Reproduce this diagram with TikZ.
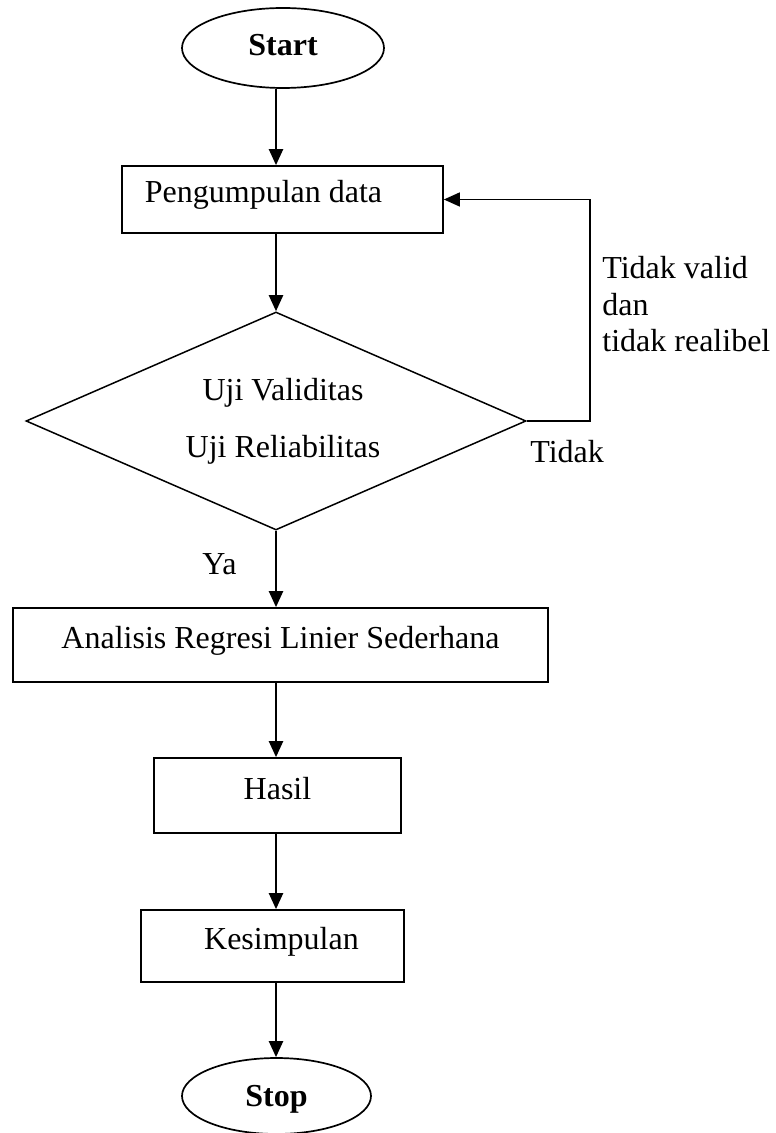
\documentclass[tikz,border=0pt]{standalone}
\usepackage{fontspec}
\setmainfont{Liberation Serif}
\usetikzlibrary{shapes.geometric,arrows.meta}
\begin{document}
\begin{tikzpicture}[x=0.5pt,y=-0.5pt,
  every node/.style={font=\fontsize{16}{18.25}\selectfont},
  box/.style={draw,line width=0.85pt,rectangle,inner sep=0pt,text height=0.7em,text depth=0.35em},
  term/.style={draw,line width=0.85pt,ellipse,inner sep=0pt,text depth=0pt,font=\fontsize{16}{18.25}\selectfont\bfseries},
  decision/.style={draw,line width=0.75pt,diamond,aspect=2.3,inner sep=0pt,align=center,minimum width=250pt,minimum height=109pt,font=\fontsize{16}{28.5}\selectfont},
  lbl/.style={inner sep=0pt},
  flow/.style={line width=1.1pt,-{Triangle[length=8pt,width=7pt]}},
  back/.style={line width=0.75pt,-{Triangle[length=8pt,width=7pt]}}]
\useasboundingbox (0,0) rectangle (775,1133);
\coordinate (ax) at (276,0);
\node[term,text height=0.75em,minimum width=101pt,minimum height=40pt] (start) at (283,48) {Start};
\node[box,minimum width=160.5pt,minimum height=33.5pt] (peng) at (282.5,199.5) {Pengumpulan data\hspace*{19pt}};
\node[decision] (dia) at (276,421) {\hspace*{7pt}Uji Validitas\\\hspace*{7pt}Uji Reliabilitas};
\node[box,minimum width=267.5pt,minimum height=37pt] (anal) at (280.5,645) {Analisis Regresi Linier Sederhana};
\node[box,minimum width=123.5pt,minimum height=37.5pt] (hasil) at (277.5,795.5) {Hasil};
\node[box,minimum width=131.5pt,minimum height=36pt] (kes) at (272.5,946) {\hspace*{9pt}Kesimpulan};
\node[term,text height=1em,minimum width=94.5pt,minimum height=38pt] (stop) at (276.5,1096) {Stop};
\draw[flow] (start.south -| ax) -- (peng.north -| ax);
\draw[flow] (peng.south -| ax) -- (dia.north -| ax);
\draw[flow] (dia.south -| ax) -- (anal.north -| ax);
\draw[flow] (anal.south -| ax) -- (hasil.north -| ax);
\draw[flow] (hasil.south -| ax) -- (kes.north -| ax);
\draw[flow] (kes.south -| ax) -- (stop.north -| ax);
\draw[back] (dia.east) -- ++(63,0) |- (peng.east);
\node[lbl,anchor=north west,align=left] (tv) at (602,256) {Tidak valid\\dan\\tidak realibel};
\node[lbl,anchor=base west] (tdk) at (530,462) {Tidak};
\node[lbl,anchor=base west] (ya) at (202,574) {Ya};
\end{tikzpicture}
\end{document}
